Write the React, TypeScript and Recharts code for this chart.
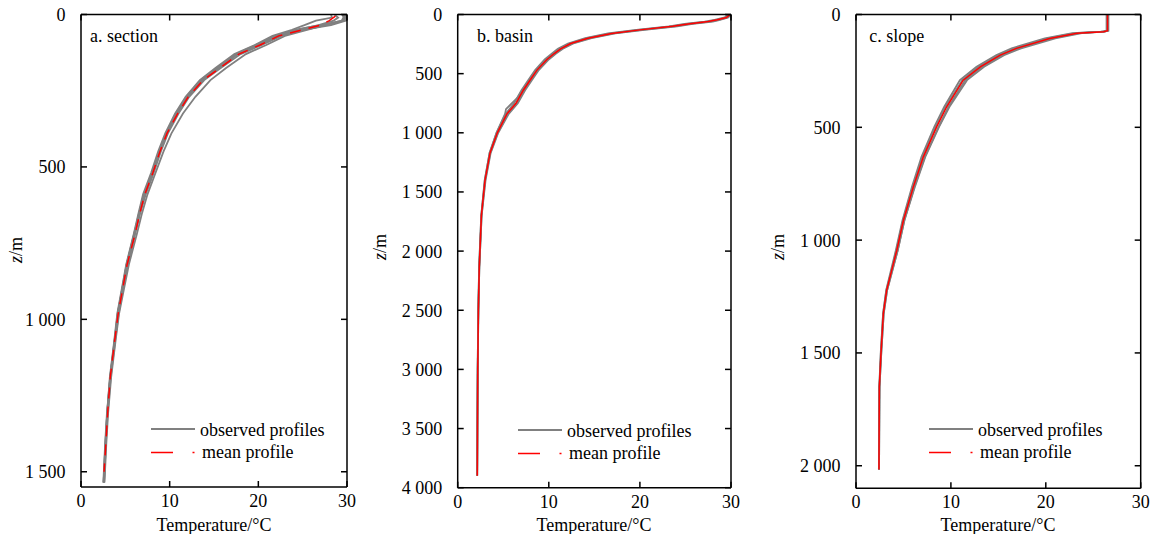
import React from 'react';
import { LineChart, Line, XAxis, YAxis, Legend } from 'recharts';

const FONT = '"Liberation Serif", "Times New Roman", Times, serif';
const FONT_SIZE = 18;
const GRAY = '#808080';
const RED = '#ff0000';
const AXIS_STYLE = { stroke: '#000', strokeWidth: 1.5 };
const CHART_HEIGHT = 534;

const tempTicks = [0, 10, 20, 30];

// ---- a. section ----
const sectionDepthTicks = [0, 500, 1000, 1500];
const sectionObsDepths = [0, 10, 20, 35, 50, 70, 100, 130, 175, 215, 270, 325, 390, 450, 520, 590, 650, 720, 820, 900, 980, 1070, 1190, 1310, 1410, 1535];
const sectionObs1 = [29.8, 29.8, 29.7, 27.6, 25.3, 22.6, 20.4, 18.0, 15.8, 13.9, 12.2, 11.0, 9.8, 9.0, 8.2, 7.3, 6.7, 6.1, 5.3, 4.75, 4.25, 3.85, 3.35, 3.0, 2.8, 2.6];
const sectionObs2 = [29.5, 29.6, 29.4, 27.5, 25.6, 23.0, 20.9, 18.6, 16.4, 14.6, 12.9, 11.5, 10.2, 9.3, 8.4, 7.5, 6.9, 6.3, 5.4, 4.85, 4.3, 3.9, 3.4, 3.05, 2.85, 2.65];
const sectionObs3 = [28.2, 28.3, 26.5, 25.2, 23.8, 21.6, 19.6, 17.3, 15.2, 13.4, 11.8, 10.6, 9.5, 8.7, 7.9, 7.0, 6.5, 5.95, 5.1, 4.6, 4.1, 3.75, 3.25, 2.95, 2.75, 2.55];
const sectionObs4 = [29.9, 29.9, 29.9, 28.2, 25.0, 22.0, 20.0, 17.6, 15.5, 13.6, 12.0, 10.8, 9.6, 8.8, 8.0, 7.1, 6.6, 6.0, 5.15, 4.65, 4.15, 3.8, 3.3, 2.95, 2.75, 2.55];
const sectionObs5 = [28.6, 29.0, 28.5, 26.8, 24.5, 22.4, 20.1, 17.7, 15.6, 13.7, 12.0, 10.8, 9.7, 8.9, 8.1, 7.2, 6.6, 6.05, 5.2, 4.7, 4.2, 3.8, 3.3, 2.95, 2.8, 2.6];
const sectionObs6 = [29.6, 29.7, 29.5, 27.0, 24.2, 22.0, 19.7, 17.5, 15.4, 13.5, 11.9, 10.7, 9.6, 8.8, 8.0, 7.1, 6.55, 6.0, 5.15, 4.65, 4.15, 3.78, 3.28, 2.92, 2.72, 2.52];
const sectionMeanDepths = [5, 20, 35, 50, 70, 100, 130, 175, 215, 270, 325, 390, 450, 520, 590, 650, 720, 820, 900, 980, 1070, 1190, 1310, 1410, 1500];
const sectionMeanTemps = [28.7, 28.0, 27.0, 25.0, 22.3, 20.2, 17.8, 15.7, 13.8, 12.1, 10.9, 9.7, 8.9, 8.1, 7.2, 6.65, 6.1, 5.2, 4.7, 4.2, 3.8, 3.3, 3.0, 2.8, 2.6];

// ---- b. basin ----
const basinDepthTicks = [0, 500, 1000, 1500, 2000, 2500, 3000, 3500, 4000];
const basinDepths = [0, 25, 45, 60, 80, 100, 130, 160, 200, 245, 290, 330, 380, 470, 560, 640, 750, 840, 1000, 1170, 1400, 1700, 2130, 2500, 3000, 3500, 3900];
const basinObs1 = [30.0, 29.7, 28.8, 28.0, 25.8, 24.1, 20.5, 17.3, 14.7, 12.7, 11.55, 10.8, 10.0, 8.9, 8.1, 7.4, 6.6, 5.6, 4.45, 3.62, 3.06, 2.63, 2.38, 2.27, 2.2, 2.16, 2.14];
const basinObs2 = [29.7, 29.3, 28.2, 27.1, 24.9, 23.2, 19.6, 16.5, 14.0, 12.1, 11.0, 10.35, 9.55, 8.5, 7.7, 7.0, 6.2, 5.25, 4.28, 3.5, 2.96, 2.58, 2.35, 2.26, 2.19, 2.15, 2.13];
const basinObs4 = [29.9, 29.6, 28.6, 27.7, 25.5, 23.8, 20.2, 17.1, 14.5, 12.55, 11.4, 10.7, 9.9, 8.8, 8.0, 7.3, 6.5, 5.5, 4.4, 3.58, 3.02, 2.62, 2.38, 2.27, 2.2, 2.17, 2.15];
const basinObs3Depths = [0, 25, 45, 60, 80, 100, 130, 160, 200, 245, 290, 330, 380, 470, 560, 640, 700, 800, 840, 1000, 1170, 1400, 1700, 2130, 2500, 3000, 3500, 3850];
const basinObs3 = [29.8, 29.5, 28.4, 27.4, 25.2, 23.5, 19.9, 16.8, 14.2, 12.3, 11.2, 10.5, 9.7, 8.6, 7.8, 7.1, 6.6, 5.3, 5.2, 4.25, 3.5, 2.98, 2.59, 2.36, 2.26, 2.19, 2.16, 2.14];
const basinMeanTemps = [29.9, 29.5, 28.5, 27.5, 25.3, 23.6, 20.0, 16.9, 14.3, 12.4, 11.3, 10.6, 9.8, 8.7, 7.9, 7.2, 6.4, 5.4, 4.35, 3.55, 3.0, 2.6, 2.37, 2.27, 2.2, 2.17, 2.15];

// ---- c. slope ----
const slopeDepthTicks = [0, 500, 1000, 1500, 2000];
const slopeDepths = [0, 72, 76, 83, 106, 150, 180, 232, 291, 409, 498, 631, 764, 912, 1045, 1134, 1222, 1326, 1503, 1651, 2017];
const slopeObs1 = [26.6, 26.6, 26.1, 23.8, 21.0, 17.4, 15.6, 13.5, 11.7, 9.85, 8.75, 7.3, 6.2, 5.1, 4.4, 3.85, 3.28, 2.92, 2.66, 2.48, 2.43];
const slopeObs2 = [26.4, 26.4, 25.8, 22.8, 19.9, 16.4, 14.8, 12.7, 10.95, 9.3, 8.25, 6.9, 5.9, 4.9, 4.2, 3.68, 3.18, 2.85, 2.6, 2.45, 2.41];
const slopeObs3 = [26.5, 26.5, 26.2, 23.5, 20.6, 17.1, 15.4, 13.3, 11.5, 9.75, 8.7, 7.25, 6.15, 5.1, 4.4, 3.82, 3.28, 2.92, 2.66, 2.48, 2.43];
const slopeObs4 = [26.5, 26.5, 26.1, 23.1, 20.2, 16.8, 15.1, 12.9, 11.2, 9.45, 8.4, 7.0, 5.98, 4.96, 4.26, 3.74, 3.2, 2.86, 2.62, 2.46, 2.42];
const slopeMeanTemps = [26.5, 26.5, 26.1, 23.3, 20.4, 16.9, 15.2, 13.1, 11.3, 9.56, 8.5, 7.1, 6.04, 5.0, 4.3, 3.76, 3.23, 2.88, 2.63, 2.46, 2.42];

type Pt = { z: number; t: number };
const toProfile = (depths: number[], temps: number[]): Pt[] =>
  depths.map((z, i) => ({ z, t: temps[i] }));

const formatDepth = (v: number) =>
  v >= 1000 ? `${Math.floor(v / 1000)} ${String(v % 1000).padStart(3, '0')}` : String(v);

const textStyle = {
  fontFamily: FONT,
  fontSize: FONT_SIZE,
  fill: '#000',
  style: { fontFamily: FONT, fontSize: FONT_SIZE },
} as const;
const TICK_LEN = 6;

const BottomTick = (props: any) => {
  const { x, y, payload } = props;
  return (
    <g>
      <line x1={x} y1={y} x2={x} y2={y - TICK_LEN} stroke="#000" strokeWidth={1.5} />
      <text x={x} y={y + 20} textAnchor="middle" {...textStyle}>{payload.value}</text>
    </g>
  );
};
const TopTick = (props: any) => {
  const { x, y } = props;
  return <line x1={x} y1={y} x2={x} y2={y + TICK_LEN} stroke="#000" strokeWidth={1.5} />;
};
const LeftTick = (props: any) => {
  const { x, y, payload } = props;
  return (
    <g>
      <line x1={x} y1={y} x2={x + TICK_LEN} y2={y} stroke="#000" strokeWidth={1.5} />
      <text x={x - 15.5} y={y + 6.5} textAnchor="end" {...textStyle}>{formatDepth(payload.value)}</text>
    </g>
  );
};
const RightTick = (props: any) => {
  const { x, y } = props;
  return <line x1={x} y1={y} x2={x - TICK_LEN} y2={y} stroke="#000" strokeWidth={1.5} />;
};

type PanelProps = {
  left: number;
  width: number;
  margin: { top: number; right: number; bottom: number; left: number };
  yAxisWidth: number;
  zMax: number;
  zTicks: number[];
  title: string;
  titleX: number;
  yLabelX: number;
  yLabelY: number;
  xLabelX: number;
  legendX: number;
  legendY: number;
  observed: Pt[][];
  mean: Pt[];
  meanDash?: string;
};

function Panel(p: PanelProps) {
  const lx = p.legendX;
  const ly = p.legendY;
  return (
    <div style={{ position: 'absolute', left: p.left, top: 0, width: p.width, height: CHART_HEIGHT }}>
      <LineChart layout="vertical" width={p.width} height={CHART_HEIGHT} margin={p.margin}>
        <XAxis
          xAxisId="bottom"
          orientation="bottom"
          type="number"
          domain={[0, 30]}
          allowDataOverflow
          ticks={tempTicks}
          interval={0}
          height={30}
          tickSize={0}
          tickMargin={0}
          tickLine={false}
          axisLine={AXIS_STYLE}
          tick={(props: any) => <BottomTick {...props} />}
          label={() => (
            <text x={p.xLabelX} y={531} textAnchor="middle" {...textStyle}>Temperature/°C</text>
          )}
        />
        <XAxis
          xAxisId="top"
          orientation="top"
          type="number"
          domain={[0, 30]}
          allowDataOverflow
          ticks={tempTicks}
          interval={0}
          height={1}
          tickSize={0}
          tickMargin={0}
          tickLine={false}
          axisLine={AXIS_STYLE}
          tick={(props: any) => <TopTick {...props} />}
          label={() => (
            <text x={p.titleX} y={41.5} textAnchor="start" {...textStyle}>{p.title}</text>
          )}
        />
        <YAxis
          yAxisId="left"
          orientation="left"
          type="number"
          dataKey="z"
          domain={[0, p.zMax]}
          allowDataOverflow
          ticks={p.zTicks}
          interval={0}
          width={p.yAxisWidth}
          tickSize={0}
          tickMargin={0}
          tickLine={false}
          axisLine={AXIS_STYLE}
          tick={(props: any) => <LeftTick {...props} />}
          label={() => (
            <text
              x={p.yLabelX}
              y={p.yLabelY}
              textAnchor="middle"
              transform={`rotate(-90 ${p.yLabelX} ${p.yLabelY})`}
              {...textStyle}
            >
              <tspan fontStyle="italic">z</tspan>/m
            </text>
          )}
        />
        <YAxis
          yAxisId="right"
          orientation="right"
          type="number"
          dataKey="z"
          domain={[0, p.zMax]}
          allowDataOverflow
          ticks={p.zTicks}
          interval={0}
          width={1}
          tickSize={0}
          tickMargin={0}
          tickLine={false}
          axisLine={AXIS_STYLE}
          tick={(props: any) => <RightTick {...props} />}
        />
        {p.observed.map((prof, i) => (
          <Line
            key={`obs-${i}`}
            data={prof}
            dataKey="t"
            xAxisId="bottom"
            yAxisId="left"
            type="linear"
            stroke={GRAY}
            strokeWidth={1.8}
            dot={false}
            activeDot={false}
            legendType="none"
            isAnimationActive={false}
          />
        ))}
        <Line
          data={p.mean}
          dataKey="t"
          xAxisId="bottom"
          yAxisId="left"
          type="linear"
          stroke={RED}
          strokeWidth={1.5}
          strokeDasharray={p.meanDash}
          dot={false}
          activeDot={false}
          legendType="none"
          isAnimationActive={false}
        />
        <Legend
          layout="horizontal"
          verticalAlign="middle"
          align="center"
          wrapperStyle={{ left: 0, top: 0, width: p.width, height: CHART_HEIGHT, pointerEvents: 'none' }}
          content={() => (
            <svg width={p.width} height={CHART_HEIGHT} style={{ display: 'block' }}>
              <line x1={lx} y1={ly} x2={lx + 44} y2={ly} stroke={GRAY} strokeWidth={1.8} />
              <text x={lx + 49} y={ly + 6.5} {...textStyle}>observed profiles</text>
              <line
                x1={lx}
                y1={ly + 23.5}
                x2={lx + 44}
                y2={ly + 23.5}
                stroke={RED}
                strokeWidth={1.5}
                strokeDasharray="22 19.5 2 100"
              />
              <text x={lx + 51} y={ly + 29} {...textStyle}>mean profile</text>
            </svg>
          )}
        />
      </LineChart>
    </div>
  );
}

const sectionObserved = [sectionObs1, sectionObs2, sectionObs3, sectionObs4, sectionObs5, sectionObs6].map((t) =>
  toProfile(sectionObsDepths, t)
);
const basinObserved = [
  toProfile(basinDepths, basinObs1),
  toProfile(basinDepths, basinObs2),
  toProfile(basinObs3Depths, basinObs3),
  toProfile(basinDepths, basinObs4),
];
const slopeObserved = [slopeObs1, slopeObs2, slopeObs3, slopeObs4].map((t) => toProfile(slopeDepths, t));

export default function App() {
  return (
    <div style={{ position: 'absolute', left: 0, top: 0, width: 1160, height: CHART_HEIGHT, background: '#fff' }}>
      <Panel
        left={0}
        width={370}
        margin={{ top: 13.5, right: 22, bottom: 17, left: 41 }}
        yAxisWidth={40}
        zMax={1550}
        zTicks={sectionDepthTicks}
        title="a. section"
        titleX={90}
        yLabelX={21.5}
        yLabelY={250}
        xLabelX={214}
        legendX={151}
        legendY={429}
        observed={sectionObserved}
        mean={toProfile(sectionMeanDepths, sectionMeanTemps)}
        meanDash="11 8"
      />
      <Panel
        left={370}
        width={380}
        margin={{ top: 13.5, right: 18, bottom: 16.3, left: 47.7 }}
        yAxisWidth={40}
        zMax={4000}
        zTicks={basinDepthTicks}
        title="b. basin"
        titleX={107}
        yLabelX={15.5}
        yLabelY={247}
        xLabelX={224}
        legendX={148}
        legendY={430}
        observed={basinObserved}
        mean={toProfile(basinDepths, basinMeanTemps)}
      />
      <Panel
        left={750}
        width={410}
        margin={{ top: 13.5, right: 18.3, bottom: 15.7, left: 66 }}
        yAxisWidth={40}
        zMax={2100}
        zTicks={slopeDepthTicks}
        title="c. slope"
        titleX={119.3}
        yLabelX={33.5}
        yLabelY={247}
        xLabelX={248}
        legendX={179}
        legendY={429}
        observed={slopeObserved}
        mean={toProfile(slopeDepths, slopeMeanTemps)}
      />
    </div>
  );
}
